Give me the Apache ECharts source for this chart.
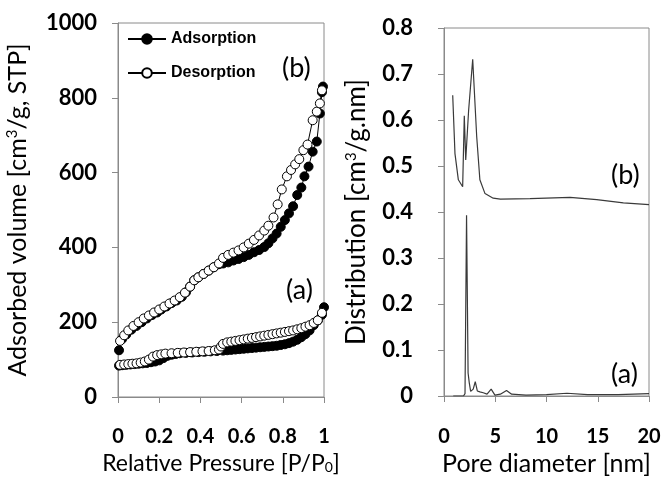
<!DOCTYPE html>
<html>
<head>
<meta charset="utf-8">
<script src="https://cdn.jsdelivr.net/npm/echarts@6/dist/echarts.min.js"></script>
<style>html,body{margin:0;padding:0;background:#fff;overflow:hidden}#c{width:664px;height:480px}</style>
</head>
<body>
<div id="c"></div>
<script>
// ---- Isotherm (a) ----
const aAdsP = [0.005,0.02,0.04,0.06,0.08,0.10,0.12,0.14,0.16,0.18,0.20,0.22,0.24,0.26,0.28,0.30,0.33,0.36,0.39,0.42,0.45,0.48,0.51,0.53,0.55,0.57,0.59,0.61,0.63,0.65,0.67,0.69,0.71,0.73,0.75,0.77,0.79,0.81,0.83,0.85,0.87,0.89,0.91,0.93,0.95,0.97,0.99,1.0];
const aAdsV = [84,85,86,87,88,89,90,91,93,95,98,104,110,113,115,117,118,119,120,121,122,123,124,125,126,127,128,129,130,131,132,133,134,135,136,137,139,141,144,148,153,160,168,178,192,205,220,240];
const aDesP = [0.01,0.03,0.05,0.07,0.09,0.11,0.13,0.15,0.17,0.19,0.21,0.23,0.26,0.29,0.32,0.35,0.38,0.41,0.44,0.47,0.49,0.50,0.51,0.53,0.55,0.57,0.59,0.61,0.63,0.65,0.67,0.69,0.71,0.73,0.75,0.77,0.79,0.81,0.83,0.85,0.87,0.89,0.91,0.93,0.95,0.97,0.99];
const aDesV = [86,87,88,89,90,92,95,100,108,112,114,116,117,118,119,120,121,122,123,125,127,135,142,146,148,150,152,154,156,158,160,162,164,166,168,170,172,174,176,178,181,184,188,192,198,205,225];
// ---- Isotherm (b) ----
const bAdsP = [0.005,0.02,0.04,0.065,0.09,0.115,0.14,0.165,0.19,0.21,0.235,0.26,0.285,0.31,0.33,0.35,0.37,0.39,0.415,0.44,0.465,0.49,0.51,0.535,0.56,0.585,0.61,0.635,0.66,0.685,0.71,0.73,0.75,0.77,0.79,0.81,0.83,0.85,0.87,0.89,0.905,0.925,0.945,0.965,0.98,0.99,0.995];
const bAdsV = [125,155,167,180,190,200,210,219,226,234,242,251,258,268,280,295,312,320,329,338,347,355,357,360,365,369,374,380,387,393,401,411,424,437,455,473,491,510,540,560,590,616,656,683,758,815,830];
const bDesP = [0.01,0.03,0.05,0.075,0.1,0.125,0.15,0.175,0.2,0.225,0.25,0.275,0.3,0.325,0.35,0.37,0.39,0.415,0.44,0.465,0.49,0.51,0.535,0.56,0.585,0.61,0.635,0.66,0.685,0.71,0.73,0.755,0.775,0.795,0.82,0.84,0.86,0.88,0.9,0.92,0.945,0.965,0.98,0.99];
const bDesV = [150,165,178,190,200,210,218,226,234,242,250,258,267,279,295,312,320,329,338,347,357,372,380,386,392,400,410,420,432,445,458,480,515,555,590,607,622,636,660,675,740,763,785,820];
// ---- Pore size distributions ----
const psdBD = [0.85,1.07,1.4,1.82,1.98,2.12,2.4,2.8,3.19,3.5,4.0,4.8,5.5,8.4,12.3,14.9,17.5,20];
const psdBV = [0.654,0.527,0.47,0.455,0.609,0.513,0.62,0.732,0.564,0.47,0.44,0.43,0.428,0.429,0.432,0.427,0.42,0.416];
const psdAD = [0.9,1.9,2.05,2.2,2.35,2.47,2.6,2.85,3.05,3.25,3.5,3.83,4.2,4.6,4.97,5.5,6.1,6.6,8,10,12,14,17,20];
const psdAV = [0,0,0.005,0.393,0.05,0.028,0.01,0.015,0.031,0.011,0.009,0.007,0.004,0.015,0.002,0.004,0.012,0.004,0.002,0.003,0.006,0.003,0.003,0.005];

const xTicksL = [0,0.2,0.4,0.6,0.8,1];
const yTicksL = [0,200,400,600,800,1000];
const xTicksR = [0,5,10,15,20];
const yTicksR = [0,0.1,0.2,0.3,0.4,0.5,0.6,0.7,0.8];

const zip = (a,b)=>a.map((v,i)=>[v,b[i]]);
const FONT = 'Lato';
const axisCol = '#8a8a8a';

const chart = echarts.init(document.getElementById('c'));
const tickLab = (sz)=>({color:'#000',fontFamily:FONT,fontWeight:'bold',fontSize:sz});
const fmt = v=>String(+(+v).toFixed(1));
chart.setOption({
  animation:false,
  backgroundColor:'#fff',
  grid:[
    {left:118,top:23,width:206,height:374,show:true,borderColor:axisCol,borderWidth:1,containLabel:false,outerBoundsMode:'none'},
    {left:444,top:28,width:205,height:368,show:true,borderColor:axisCol,borderWidth:1,containLabel:false,outerBoundsMode:'none'}
  ],
  legend:{
    data:['Adsorption','Desorption'],orient:'vertical',left:122,top:26,itemGap:18,itemWidth:38,itemHeight:12,
    textStyle:{fontFamily:'Liberation Sans',fontWeight:'bold',fontSize:16,color:'#000'}
  },
  xAxis:[
    {gridIndex:0,type:'value',min:0,max:1,interval:0.2,
     axisLine:{lineStyle:{color:axisCol}},axisTick:{show:true,length:6,lineStyle:{color:axisCol}},splitLine:{show:false},
     axisLabel:Object.assign(tickLab(20),{margin:30,formatter:fmt}),
     name:'{a|Relative Pressure [P/P}{s|0}{a|]}',nameLocation:'middle',nameGap:50,
     nameTextStyle:{rich:{a:{fontFamily:FONT,fontSize:23,color:'#000'},s:{fontFamily:FONT,fontSize:14,color:'#000',verticalAlign:'bottom',padding:[9,0,0,0]}}}},
    {gridIndex:1,type:'value',min:0,max:20,interval:5,
     axisLine:{lineStyle:{color:axisCol}},axisTick:{show:true,length:6,lineStyle:{color:axisCol}},splitLine:{show:false},
     axisLabel:Object.assign(tickLab(20),{margin:31,formatter:fmt}),
     name:'Pore diameter [nm]',nameLocation:'middle',nameGap:52,
     nameTextStyle:{fontFamily:FONT,fontSize:25,color:'#000'}}
  ],
  yAxis:[
    {gridIndex:0,type:'value',min:0,max:1000,interval:200,
     axisLine:{show:true,lineStyle:{color:axisCol}},axisTick:{show:true,length:6,lineStyle:{color:axisCol}},splitLine:{show:false},
     axisLabel:Object.assign(tickLab(22),{margin:21,formatter:v=>String(v)}),
     name:'{a|Adsorbed volume [cm}{s|3}{a|/g, STP]}',nameLocation:'middle',nameGap:88,nameRotate:90,
     nameTextStyle:{rich:{a:{fontFamily:FONT,fontSize:25,color:'#000'},s:{fontFamily:FONT,fontSize:15,color:'#000',verticalAlign:'top',padding:[0,0,9,0]}}}},
    {gridIndex:1,type:'value',min:0,max:0.8,interval:0.1,
     axisLine:{show:true,lineStyle:{color:axisCol}},axisTick:{show:true,length:6,lineStyle:{color:axisCol}},splitLine:{show:false},
     axisLabel:Object.assign(tickLab(22),{margin:31,formatter:fmt}),
     name:'{a|Distribution [cm}{s|3}{a|/g.nm]}',nameLocation:'middle',nameGap:74,nameRotate:90,
     nameTextStyle:{rich:{a:{fontFamily:FONT,fontSize:26,color:'#000'},s:{fontFamily:FONT,fontSize:15,color:'#000',verticalAlign:'top',padding:[0,0,9,0]}}}}
  ],
  series:[
    {name:'Adsorption',type:'line',xAxisIndex:0,yAxisIndex:0,data:zip(aAdsP,aAdsV),symbol:'circle',symbolSize:9,showAllSymbol:true,
     lineStyle:{color:'#000',width:1},itemStyle:{color:'#000',borderColor:'#000',borderWidth:1}},
    {name:'Adsorption',type:'line',xAxisIndex:0,yAxisIndex:0,data:zip(bAdsP,bAdsV),symbol:'circle',symbolSize:9,showAllSymbol:true,
     lineStyle:{color:'#000',width:1},itemStyle:{color:'#000',borderColor:'#000',borderWidth:1}},
    {name:'Desorption',type:'line',xAxisIndex:0,yAxisIndex:0,data:zip(aDesP,aDesV),symbol:'circle',symbolSize:9,showAllSymbol:true,
     lineStyle:{color:'#000',width:1},itemStyle:{color:'#fff',borderColor:'#000',borderWidth:1}},
    {name:'Desorption',type:'line',xAxisIndex:0,yAxisIndex:0,data:zip(bDesP,bDesV),symbol:'circle',symbolSize:9,showAllSymbol:true,
     lineStyle:{color:'#000',width:1},itemStyle:{color:'#fff',borderColor:'#000',borderWidth:1}},
    {type:'line',xAxisIndex:1,yAxisIndex:1,data:zip(psdBD,psdBV),symbol:'none',lineStyle:{color:'#3a3a3a',width:1.2}},
    {type:'line',xAxisIndex:1,yAxisIndex:1,data:zip(psdAD,psdAV),symbol:'none',lineStyle:{color:'#3a3a3a',width:1.2}}
  ],
  graphic:[
    {type:'text',left:282,top:55,style:{text:'(b)',fontFamily:FONT,fontSize:27,fill:'#000'}},
    {type:'text',left:286,top:277,style:{text:'(a)',fontFamily:FONT,fontSize:27,fill:'#000'}},
    {type:'text',left:611,top:162,style:{text:'(b)',fontFamily:FONT,fontSize:27,fill:'#000'}},
    {type:'text',left:611,top:361,style:{text:'(a)',fontFamily:FONT,fontSize:27,fill:'#000'}}
  ]
});
</script>
</body>
</html>
